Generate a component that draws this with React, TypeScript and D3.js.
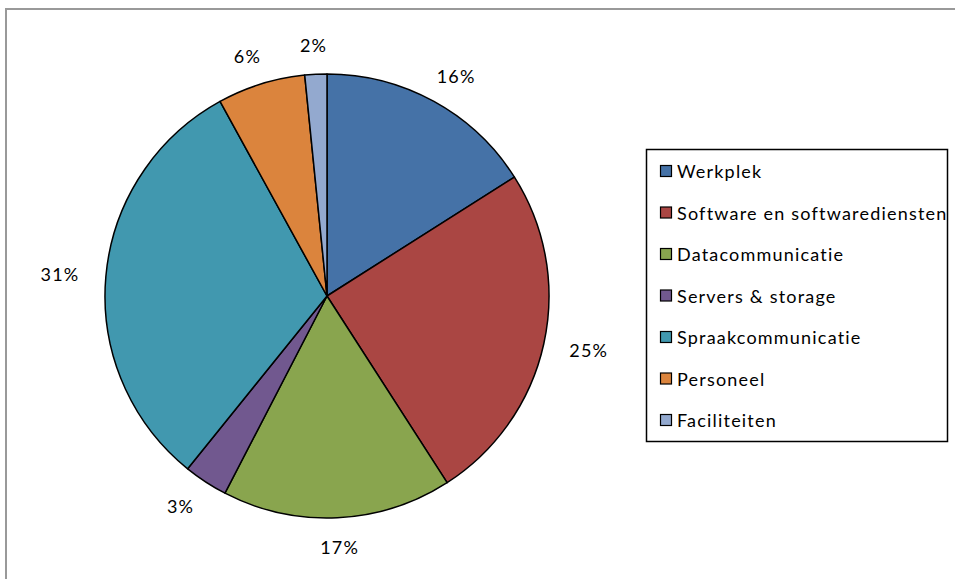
import React, { useEffect, useRef } from 'react';
import * as d3 from 'd3';

const categories = [
  'Werkplek',
  'Software en softwarediensten',
  'Datacommunicatie',
  'Servers & storage',
  'Spraakcommunicatie',
  'Personeel',
  'Faciliteiten',
];
const values = [16.0, 24.9, 16.7, 3.2, 31.2, 6.4, 1.6];
const colors = ['#4572A7', '#AA4643', '#89A54E', '#71588F', '#4198AF', '#DB843D', '#93A9CF'];

const width = 955;
const height = 579;

const App: React.FC = () => {
  const ref = useRef<SVGSVGElement>(null);

  useEffect(() => {
    const svg = d3.select(ref.current);
    svg.selectAll('*').remove();

    const font = 'Lato, "Open Sans", sans-serif';

    // outer chart border
    svg.append('rect')
      .attr('x', 6).attr('y', 9)
      .attr('width', width + 10).attr('height', height + 10)
      .attr('fill', '#fff')
      .attr('stroke', '#999').attr('stroke-width', 2);

    const cx = 327, cy = 296, r = 222;
    const data = categories.map((c, i) => ({ name: c, value: values[i], color: colors[i] }));
    const pie = d3.pie<any>().sort(null).value(d => d.value);
    const arcs = pie(data);
    const arc = d3.arc<any>().innerRadius(0).outerRadius(r);

    const g = svg.append('g').attr('transform', `translate(${cx},${cy})`);
    g.selectAll('path')
      .data(arcs)
      .enter()
      .append('path')
      .attr('d', arc)
      .attr('fill', d => d.data.color)
      .attr('stroke', '#000')
      .attr('stroke-width', 1.5)
      .attr('stroke-linejoin', 'round');

    const total = d3.sum(values);
    const rx = 268, ry = 251;
    g.selectAll('text.lbl')
      .data(arcs)
      .enter()
      .append('text')
      .attr('class', 'lbl')
      .attr('x', d => rx * Math.sin((d.startAngle + d.endAngle) / 2))
      .attr('y', d => -ry * Math.cos((d.startAngle + d.endAngle) / 2))
      .attr('text-anchor', 'middle')
      .attr('dominant-baseline', 'central')
      .attr('font-family', font)
      .attr('font-size', 18)
      .attr('letter-spacing', 1.2)
      .attr('fill', '#000')
      .text(d => `${Math.round((d.data.value / total) * 100)}%`);

    // legend
    const legend = svg.append('g');
    legend.append('rect')
      .attr('x', 646.5).attr('y', 149.5)
      .attr('width', 301).attr('height', 292)
      .attr('fill', '#fff')
      .attr('stroke', '#000').attr('stroke-width', 1.5);

    data.forEach((d, i) => {
      const y = 171 + i * 41.5;
      legend.append('rect')
        .attr('x', 660.5).attr('y', y - 5.5)
        .attr('width', 11).attr('height', 11)
        .attr('fill', d.color)
        .attr('stroke', '#000').attr('stroke-width', 1.2);
      legend.append('text')
        .attr('x', 677)
        .attr('y', y)
        .attr('dominant-baseline', 'central')
        .attr('font-family', font)
        .attr('font-size', 18)
        .attr('letter-spacing', 1.2)
        .attr('fill', '#000')
        .text(d.name);
    });
  }, []);

  return (
    <svg
      ref={ref}
      width={width}
      height={height}
      style={{ position: 'absolute', left: 0, top: 0, background: '#fff' }}
    />
  );
};

export default App;
